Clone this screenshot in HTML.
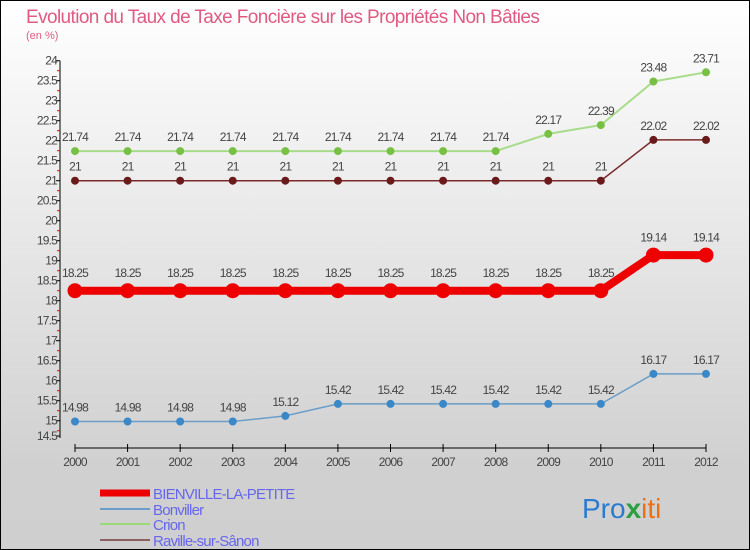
<!DOCTYPE html>
<html><head><meta charset="utf-8"><style>
body{margin:0}
#c{width:750px;height:550px;position:relative;overflow:hidden;background:linear-gradient(#ffffff,#d0d0d0 85%,#cfcfcf);font-family:"Liberation Sans",sans-serif}
</style></head><body>
<div id="c">
<svg id="s" width="750" height="550" xmlns="http://www.w3.org/2000/svg">
<rect x="0.5" y="0.5" width="749" height="549" fill="none" stroke="#000"/>
<text x="26" y="23" font-size="19" fill="#e05a82" letter-spacing="-0.6">Evolution du Taux de Taxe Foncière sur les Propriétés Non Bâties</text>
<text x="26" y="39" font-size="11" fill="#e05a82">(en %)</text>
<g id="axes"></g><g id="series"></g>
<g font-size="15" fill="#6666ee">
<line x1="100" y1="493" x2="150" y2="493" stroke="#ee0000" stroke-width="7"/>
<text x="153" y="499" letter-spacing="-0.8">BIENVILLE-LA-PETITE</text>
<line x1="100" y1="509" x2="150" y2="509" stroke="#6a9ec8" stroke-width="2"/>
<text x="153" y="515" letter-spacing="-0.8">Bonviller</text>
<line x1="100" y1="524" x2="150" y2="524" stroke="#9bd87a" stroke-width="2"/>
<text x="153" y="530" letter-spacing="-0.8">Crion</text>
<line x1="100" y1="540" x2="150" y2="540" stroke="#8b6060" stroke-width="2"/>
<text x="153" y="546" letter-spacing="-0.8">Raville-sur-Sânon</text>
</g>
<text x="582" y="518" font-size="28"><tspan fill="#2a7ad0">Pro</tspan><tspan fill="#2aa040" font-weight="bold">x</tspan><tspan fill="#f07010">iti</tspan></text>
</svg></div>
<script>
const years=[2000,2001,2002,2003,2004,2005,2006,2007,2008,2009,2010,2011,2012];
const yTicks=[14.5,15,15.5,16,16.5,17,17.5,18,18.5,19,19.5,20,20.5,21,21.5,22,22.5,23,23.5,24];
const bienville=[18.25,18.25,18.25,18.25,18.25,18.25,18.25,18.25,18.25,18.25,18.25,19.14,19.14];
const bonviller=[14.98,14.98,14.98,14.98,15.12,15.42,15.42,15.42,15.42,15.42,15.42,16.17,16.17];
const crion=[21.74,21.74,21.74,21.74,21.74,21.74,21.74,21.74,21.74,22.17,22.39,23.48,23.71];
const raville=[21,21,21,21,21,21,21,21,21,21,21,22.02,22.02];
const NS="http://www.w3.org/2000/svg";
const xs=i=>75+i*(706-75)/12;
const ys=v=>60.7+(24-v)*40;
function mk(p,t,a){const e=document.createElementNS(NS,t);for(const k in a)e.setAttribute(k,a[k]);p.appendChild(e);return e;}
const ax=document.getElementById('axes');
const yl=mk(ax,'line',{x1:60,y1:ys(24),x2:60,y2:438,stroke:'#000'});


yTicks.forEach(v=>{
 const y=Math.min(ys(v),436);
 const t=mk(ax,'line',{x1:56,y1:y,x2:60,y2:y,stroke:'#000'});
 
 
 if(v>14.5){
 const r=mk(ax,'line',{x1:57,y1:ys(v)+10,x2:60,y2:ys(v)+10,stroke:'#e00'});
 
 
 }
 const l=mk(ax,'text',{x:57,y:y+4,'font-size':12,'text-anchor':'end',fill:'#444','letter-spacing':'-0.8'});
 l.textContent=String(v);
 
 
});
const xl=mk(ax,'line',{x1:xs(0),y1:448,x2:xs(12),y2:448,stroke:'#000'});


years.forEach((yr,i)=>{
 const t=mk(ax,'line',{x1:xs(i),y1:444,x2:xs(i),y2:452,stroke:'#000'});
 
 
 const l=mk(ax,'text',{x:xs(i),y:466,'font-size':12,'text-anchor':'middle',fill:'#444','letter-spacing':'-0.8'});
 l.textContent=String(yr);
 
 
});
const sg=document.getElementById('series');
function series(name,vals,col,dot,w,r){
 const g=mk(sg,'g',{});
 
 
 const pl=mk(g,'polyline',{points:vals.map((v,i)=>xs(i)+','+ys(v)).join(' '),fill:'none',stroke:col,'stroke-width':w});
 
 
 vals.forEach((v,i)=>{
  const c=mk(g,'circle',{cx:xs(i),cy:ys(v),r:r,fill:dot});
  
  
  const l=mk(g,'text',{x:xs(i),y:ys(v)-(r+6),'font-size':12,'text-anchor':'middle',fill:'#444','letter-spacing':'-0.8'});
  l.textContent=String(v);
  
  
 });
}
series('crion',crion,'#a8dc8a','#77c044',2,4);
series('raville',raville,'#7a2a2a','#6a1a1a',1.5,4);
series('bonviller',bonviller,'#6a9ec8','#3a88c8',1.5,4);
series('bienville',bienville,'#ee0000','#ee0000',8,7.5);
</script>
</body></html>
